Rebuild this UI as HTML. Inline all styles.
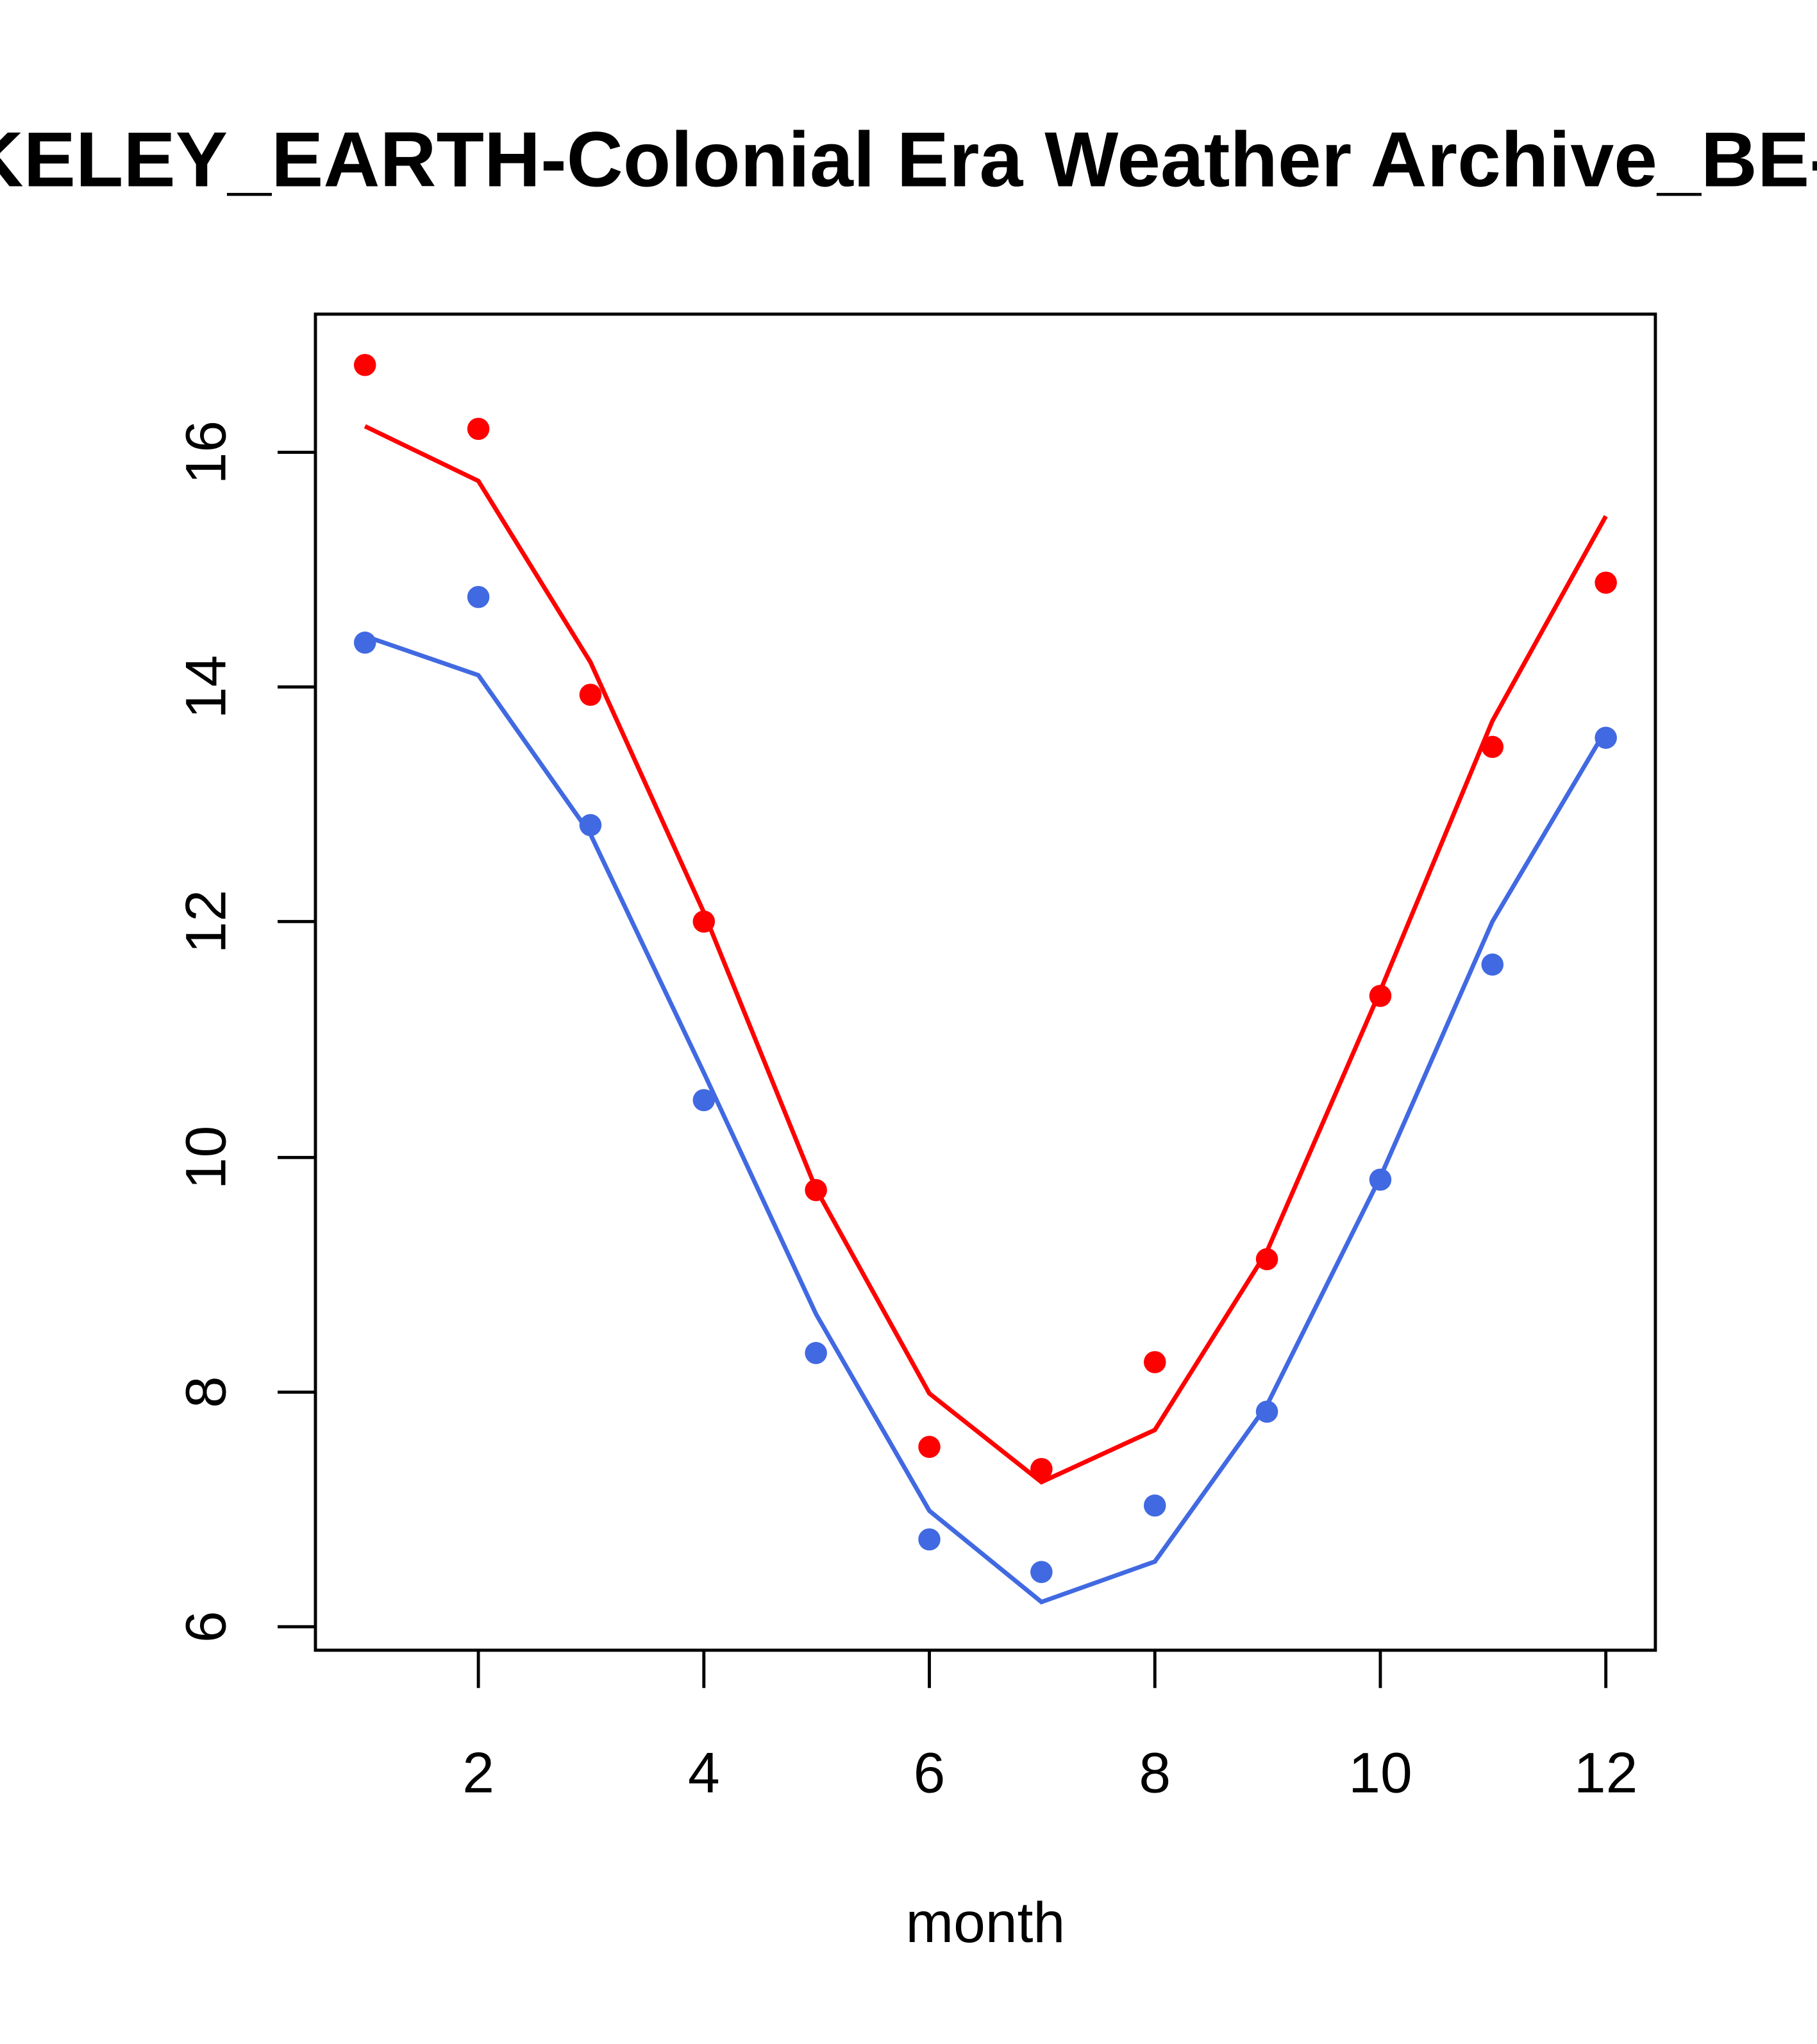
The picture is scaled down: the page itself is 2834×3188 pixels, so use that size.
<!DOCTYPE html>
<html><head><meta charset="utf-8"><style>html,body{margin:0;padding:0;background:#fff;overflow:hidden}svg{display:block}</style></head>
<body>
<svg xmlns="http://www.w3.org/2000/svg" width="2834" height="3188" viewBox="0 0 1394 1568.1" preserveAspectRatio="none" font-family="Liberation Sans, Arial, sans-serif">
<rect width="1394" height="1568.1" fill="#fff"/>
<text x="-152" y="143" font-size="60" font-weight="bold" fill="#000">BERKELEY_EARTH-Colonial Era Weather Archive_BE-1234</text>
<rect x="242" y="241" width="1028" height="1025" fill="none" stroke="#000" stroke-width="2.4"/>
<g stroke="#000" stroke-width="2.4">
<line x1="367" y1="1266" x2="367" y2="1295"/><line x1="540" y1="1266" x2="540" y2="1295"/><line x1="713" y1="1266" x2="713" y2="1295"/><line x1="886" y1="1266" x2="886" y2="1295"/><line x1="1059" y1="1266" x2="1059" y2="1295"/><line x1="1232" y1="1266" x2="1232" y2="1295"/>
<line x1="242" y1="347" x2="213" y2="347"/><line x1="242" y1="527" x2="213" y2="527"/><line x1="242" y1="707" x2="213" y2="707"/><line x1="242" y1="888" x2="213" y2="888"/><line x1="242" y1="1068" x2="213" y2="1068"/><line x1="242" y1="1248" x2="213" y2="1248"/>
</g>
<g font-size="44" fill="#000" text-anchor="middle">
<text x="367" y="1375">2</text><text x="540" y="1375">4</text><text x="713" y="1375">6</text><text x="886" y="1375">8</text><text x="1059" y="1375">10</text><text x="1232" y="1375">12</text>
<text transform="translate(173,347) rotate(-90)">16</text>
<text transform="translate(173,527) rotate(-90)">14</text>
<text transform="translate(173,707) rotate(-90)">12</text>
<text transform="translate(173,888) rotate(-90)">10</text>
<text transform="translate(173,1068) rotate(-90)">8</text>
<text transform="translate(173,1248) rotate(-90)">6</text>
<text x="756" y="1490">month</text>
</g>
<polyline fill="none" stroke="#ff0000" stroke-width="3.4" points="280,327 367,369 453,508 540,700 626,912 713,1069 799,1137 886,1097 972,960 1059,760 1145,553 1232,396"/>
<polyline fill="none" stroke="#4169e1" stroke-width="3.4" points="280,488 367,518 453,640 540,823 626,1008 713,1159 799,1229 886,1198 972,1078 1059,903 1145,707 1232,560"/>
<g fill="#ff0000">
<circle cx="280" cy="280" r="8.5"/><circle cx="367" cy="329" r="8.5"/><circle cx="453" cy="533" r="8.5"/><circle cx="540" cy="707" r="8.5"/><circle cx="626" cy="913" r="8.5"/><circle cx="713" cy="1110" r="8.5"/><circle cx="799" cy="1127" r="8.5"/><circle cx="886" cy="1045" r="8.5"/><circle cx="972" cy="966" r="8.5"/><circle cx="1059" cy="764" r="8.5"/><circle cx="1145" cy="573" r="8.5"/><circle cx="1232" cy="447" r="8.5"/>
</g>
<g fill="#4169e1">
<circle cx="280" cy="493" r="8.5"/><circle cx="367" cy="458" r="8.5"/><circle cx="453" cy="633" r="8.5"/><circle cx="540" cy="844" r="8.5"/><circle cx="626" cy="1038" r="8.5"/><circle cx="713" cy="1181" r="8.5"/><circle cx="799" cy="1206" r="8.5"/><circle cx="886" cy="1155" r="8.5"/><circle cx="972" cy="1083" r="8.5"/><circle cx="1059" cy="905" r="8.5"/><circle cx="1145" cy="740" r="8.5"/><circle cx="1232" cy="566" r="8.5"/>
</g>
</svg>
</body></html>
